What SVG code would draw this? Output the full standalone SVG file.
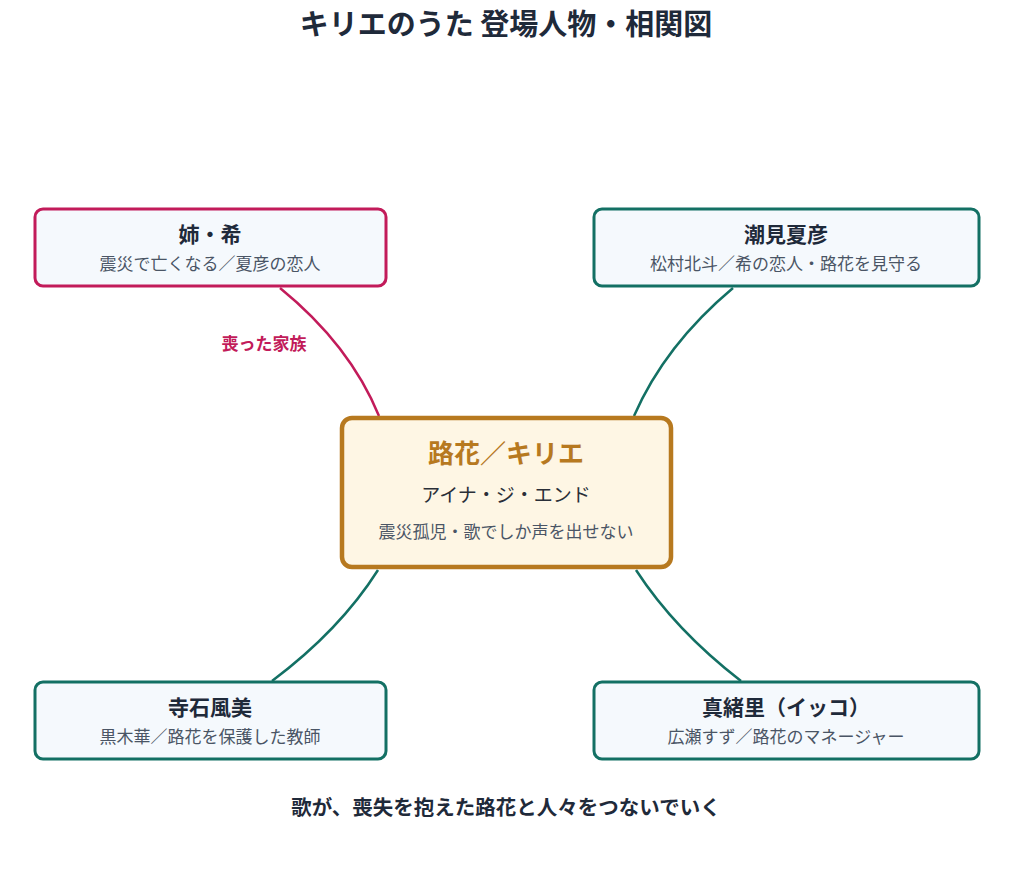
<svg xmlns="http://www.w3.org/2000/svg" width="1013" height="894" viewBox="0 0 1013 894">
<style>
text{font-family:"Noto Sans CJK JP","Noto Sans",sans-serif;text-anchor:middle}
.side{fill:#f5f9fd;stroke-width:3}
.t{font-size:21px;font-weight:bold;fill:#1f2a3a}
.s{font-size:17px;fill:#4a5565}
.teal{stroke:#137064}
.red{stroke:#c21b5a}
.c{fill:none;stroke-width:2.5}
</style>
<rect width="1013" height="894" fill="#fff"/>
<text x="506" y="35" style="font-size:29px;font-weight:bold;fill:#1f2a3a">キリエのうた 登場人物・相関図</text>
<g id="connectors">
<path class="c red" d="M280,288 Q350,345 379,416"/>
<path class="c teal" d="M733,288 Q665,345 634,416"/>
<path class="c teal" d="M378,570 Q340,630 272,681"/>
<path class="c teal" d="M636,570 Q675,630 741,681"/>
<text x="264" y="350" style="font-size:17px;font-weight:bold;fill:#c21b5a">喪った家族</text>
</g>
<g id="center">
<rect x="342" y="418" width="329" height="149" rx="10" fill="#fef6e4" stroke="#b7791f" stroke-width="4.5"/>
<text x="506" y="463" style="font-size:26px;font-weight:bold;fill:#b7791f">路花／キリエ</text>
<text x="506" y="502" style="font-size:19px;fill:#2a2f38">アイナ・ジ・エンド</text>
<text x="506" y="538" class="s">震災孤児・歌でしか声を出せない</text>
</g>
<g id="nozomi">
<rect class="side red" x="35" y="209" width="351" height="77" rx="8"/>
<text x="210" y="242" class="t">姉・希</text>
<text x="210" y="270" class="s">震災で亡くなる／夏彦の恋人</text>
</g>
<g id="natsuhiko">
<rect class="side teal" x="594" y="209" width="385" height="77" rx="8"/>
<text x="786" y="242" class="t">潮見夏彦</text>
<text x="786" y="270" class="s">松村北斗／希の恋人・路花を見守る</text>
</g>
<g id="fumi">
<rect class="side teal" x="35" y="682" width="351" height="77" rx="8"/>
<text x="210" y="715" class="t">寺石風美</text>
<text x="210" y="743" class="s">黒木華／路花を保護した教師</text>
</g>
<g id="iko">
<rect class="side teal" x="594" y="682" width="385" height="77" rx="8"/>
<text x="786" y="715" class="t">真緒里（イッコ）</text>
<text x="786" y="743" class="s">広瀬すず／路花のマネージャー</text>
</g>
<text x="506" y="815" style="font-size:20.5px;font-weight:bold;fill:#1f2a3a">歌が、喪失を抱えた路花と人々をつないでいく</text>
</svg>
